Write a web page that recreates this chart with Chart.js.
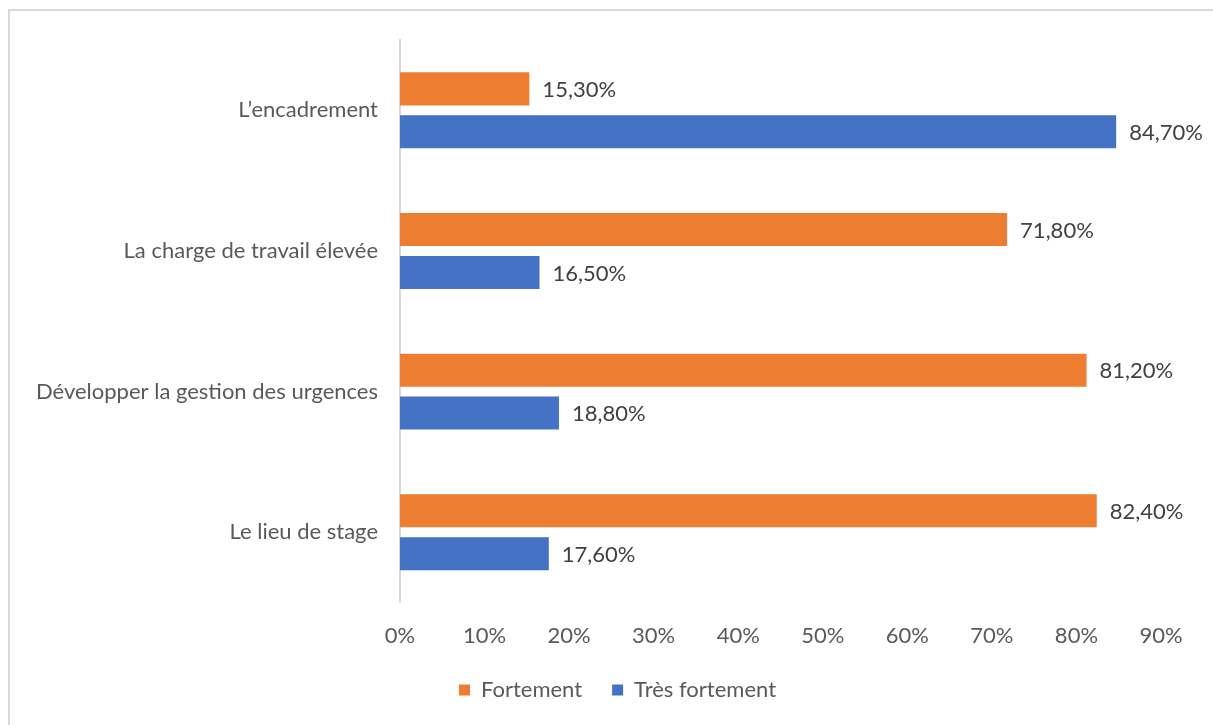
<!DOCTYPE html>
<html lang="fr">
<head>
  <meta charset="UTF-8">
  <title>Facteurs de stress</title>
  <script src="https://cdn.jsdelivr.net/npm/chart.js"></script>
  <style>
    body { margin: 0; background: #fff; }
    #wrap { position: relative; width: 1213px; height: 725px; }
  </style>
</head>
<body>
  <div id="wrap"><canvas id="stressChart"></canvas></div>

  <script>
    const categories = [
      "L\u2019encadrement",
      "La charge de travail élevée",
      "Développer la gestion des urgences",
      "Le lieu de stage"
    ];
    const fortement = [15.3, 71.8, 81.2, 82.4];
    const tresFortement = [84.7, 16.5, 18.8, 17.6];
    const tickValues = [0, 10, 20, 30, 40, 50, 60, 70, 80, 90];

    const textColor = "#595959";
    const fontFamily = "Lato, 'Open Sans', sans-serif";
    const fontSize = 22;

    const fmt = v => v.toFixed(2).replace(".", ",") + "%";

    // white background + the thin frame on top and left
    const frame = {
      id: "frame",
      beforeDraw(chart) {
        const c = chart.ctx;
        c.save();
        c.fillStyle = "#fff";
        c.fillRect(0, 0, chart.width, chart.height);
        c.fillStyle = "#d9d9d9";
        c.fillRect(8, 9, chart.width - 8, 2);
        c.fillRect(8, 9, 2, chart.height - 9);
        c.restore();
      }
    };

    // value text at the end of each bar
    const valueLabels = {
      id: "valueLabels",
      afterDatasetsDraw(chart) {
        const c = chart.ctx;
        c.save();
        c.font = fontSize + "px " + fontFamily;
        c.fillStyle = "#404040";
        c.textAlign = "left";
        c.textBaseline = "middle";
        chart.data.datasets.forEach((ds, i) => {
          chart.getDatasetMeta(i).data.forEach((bar, j) => {
            c.fillText(fmt(ds.data[j]), bar.x + 13, bar.y + 1);
          });
        });
        c.restore();
      }
    };

    // legend sits a bit right of the canvas centre, under the plot
    const legendShift = {
      id: "legendShift",
      afterLayout(chart) {
        chart.legend.left += 37;
        chart.legend.right += 37;
      }
    };

    new Chart(document.getElementById("stressChart"), {
      type: "bar",
      data: {
        labels: categories,
        datasets: [
          { label: "Fortement", data: fortement, backgroundColor: "#ED7D31" },
          { label: "Très fortement", data: tresFortement, backgroundColor: "#4472C4" }
        ]
      },
      options: {
        indexAxis: "y",
        responsive: true,
        maintainAspectRatio: false,
        animation: false,
        categoryPercentage: 0.61,
        barPercentage: 0.77,
        layout: { padding: { top: 40, right: 52, bottom: 14, left: 0 } },
        scales: {
          x: {
            min: 0,
            max: 90,
            afterBuildTicks: axis => { axis.ticks = tickValues.map(v => ({ value: v })); },
            afterFit: axis => { axis.height -= 20; },
            grid: { display: false, drawTicks: false },
            border: { display: false },
            ticks: {
              padding: 20,
              color: textColor,
              font: { family: fontFamily, size: fontSize }
            ,
              callback: v => v + "%"
            }
          },
          y: {
            afterFit: axis => { axis.width = 400; },
            grid: { display: false, drawTicks: false },
            border: { display: true, color: "#d9d9d9", width: 2 },
            ticks: {
              padding: 22,
              color: textColor,
              font: { family: fontFamily, size: fontSize }
            }
          }
        },
        plugins: {
          legend: {
            position: "bottom",
            labels: {
              boxWidth: 11,
              boxHeight: 11,
              padding: 30,
              color: textColor,
              font: { family: fontFamily, size: fontSize }
            }
          },
          tooltip: { enabled: false }
        }
      },
      plugins: [frame, valueLabels, legendShift]
    });
  </script>
</body>
</html>
